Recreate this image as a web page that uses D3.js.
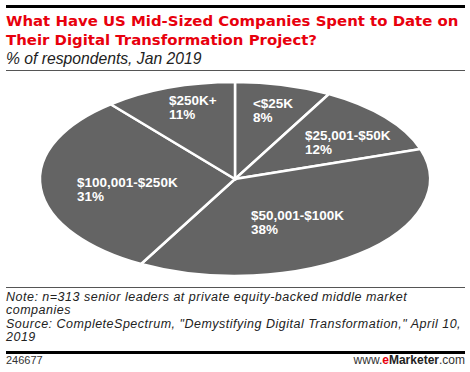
<!DOCTYPE html>
<html>
<head>
<meta charset="utf-8">
<script src="https://cdn.jsdelivr.net/npm/d3@7"></script>
<style>
  body { margin: 0; background: #fff; }
  svg { display: block; }
</style>
</head>
<body>
<div id="chart"></div>
<script>
const categories = ["<$25K", "$25,001-$50K", "$50,001-$100K", "$100,001-$250K", "$250K+"];
const values = [8, 12, 38, 31, 11];
const titleLines = ["What Have US Mid-Sized Companies Spent to Date on", "Their Digital Transformation Project?"];
const subtitle = "% of respondents, Jan 2019";
const noteLines = [
  "Note: n=313 senior leaders at private equity-backed middle market",
  "companies",
  "Source: CompleteSpectrum, \"Demystifying Digital Transformation,\" April 10,",
  "2019"
];

// label left edge / first baseline, in ellipse-normalised units (x / rx, y / ry)
const labelPos = [[0.092, -0.73], [0.359, -0.40], [0.082, 0.42], [-0.81, 0.082], [-0.338, -0.76]];

const W = 470, H = 372;
const svg = d3.select("#chart").append("svg").attr("width", W).attr("height", H);

svg.append("rect").attr("x", 6).attr("y", 5).attr("width", 459).attr("height", 3).attr("fill", "#000");

const title = svg.selectAll(".title").data(titleLines).enter().append("text")
    .attr("x", 6).attr("y", (d, i) => 26 + i * 19)
    .style("font-family", "'DejaVu Sans', sans-serif")
    .style("font-weight", "bold").style("font-size", "15px")
    .attr("fill", "#e8000d").text(d => d);
// shrink the title so the first line ends where the reference's does
const w0 = title.node().getComputedTextLength();
title.style("font-size", (15 * 453 / w0) + "px");

svg.append("text").attr("x", 6).attr("y", 64)
    .style("font-family", "'Liberation Sans', Arial, sans-serif")
    .style("font-style", "italic").style("font-size", "15.7px")
    .attr("fill", "#222").text(subtitle);

svg.append("rect").attr("x", 6).attr("y", 70).attr("width", 459).attr("height", 1).attr("fill", "#555");

// pie squashed into an ellipse
const cx = 235, cy = 179, rx = 195, ry = 97;
const pie = d3.pie().sort(null).value(d => d)(values);
const arc = d3.arc().innerRadius(0).outerRadius(ry);

const g = svg.append("g").attr("transform", `translate(${cx},${cy})`);
g.append("g").attr("transform", `scale(${rx / ry},1)`)
  .selectAll("path").data(pie).enter().append("path")
    .attr("d", arc)
    .attr("fill", "#646464")
    .attr("stroke", "#fff").attr("stroke-width", 2.5)
    .attr("vector-effect", "non-scaling-stroke");

const lab = g.selectAll(".lab").data(pie).enter().append("text")
    .style("font-family", "'Liberation Sans', Arial, sans-serif")
    .style("font-weight", "bold").style("font-size", "13.5px")
    .attr("fill", "#fff")
    .attr("transform", (d, i) => `translate(${labelPos[i][0] * rx},${labelPos[i][1] * ry})`);
lab.append("tspan").attr("x", 0).attr("y", 0).text((d, i) => categories[i]);
lab.append("tspan").attr("x", 0).attr("y", 14).text(d => d.value + "%");

svg.append("rect").attr("x", 6).attr("y", 287).attr("width", 459).attr("height", 1).attr("fill", "#555");

svg.selectAll(".note").data(noteLines).enter().append("text")
    .attr("x", 6).attr("y", (d, i) => 301 + i * 13.3)
    .style("font-family", "'Liberation Sans', Arial, sans-serif")
    .style("font-style", "italic").style("font-size", "12.5px")
    .style("letter-spacing", "0.5px")
    .attr("fill", "#222").text(d => d);

svg.append("rect").attr("x", 6).attr("y", 351).attr("width", 459).attr("height", 3).attr("fill", "#000");

svg.append("text").attr("x", 6).attr("y", 364)
    .style("font-family", "'Liberation Sans', Arial, sans-serif")
    .style("font-size", "11px").attr("fill", "#333").text("246677");

const brand = svg.append("text").attr("x", 465).attr("y", 364).attr("text-anchor", "end")
    .style("font-family", "'Liberation Sans', Arial, sans-serif")
    .style("font-size", "12px").attr("fill", "#333");
brand.append("tspan").text("www.");
brand.append("tspan").attr("fill", "#e8000d").attr("font-weight", "bold").text("e");
brand.append("tspan").attr("font-weight", "bold").attr("fill", "#222").text("Marketer");
brand.append("tspan").text(".com");
</script>
</body>
</html>
